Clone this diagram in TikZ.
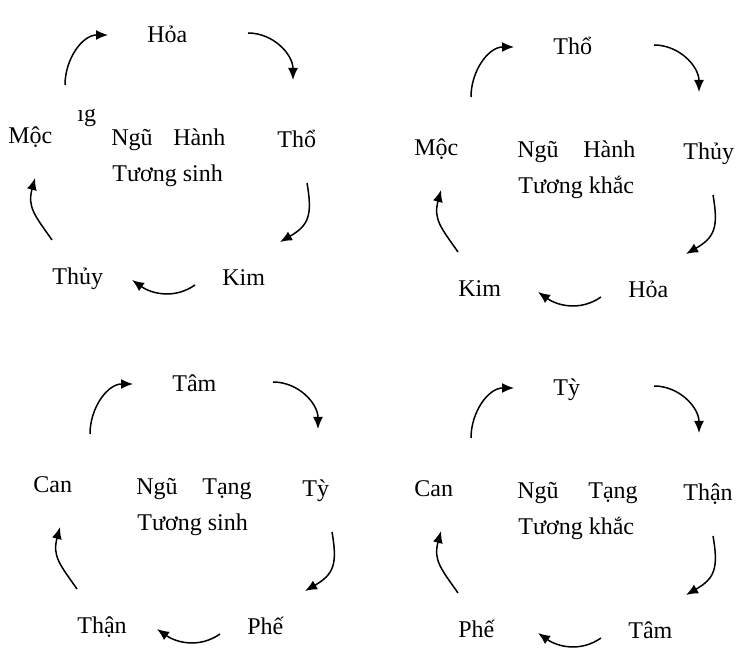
\documentclass[tikz,border=0pt]{standalone}
\usepackage{fontspec}
\setmainfont{Liberation Serif}
\usepackage{tikz}
\usetikzlibrary{arrows.meta}

\begin{document}
\begin{tikzpicture}[x=0.5pt, y=0.5pt,
        lbl/.style={anchor=base west, inner sep=0pt, font=\fontsize{12}{14}\selectfont},
        cyc/.style={-{Latex[length=6pt,width=5pt]}, line width=0.75pt}]
        \useasboundingbox (0,0) rectangle (750,-667);
        % Ngu Hanh tuong sinh
        \begin{scope}
        \node[lbl] (hoa1) at (147,-43) {Hỏa};
        \node[lbl] (tho1) at (277,-148) {Thổ};
        \node[lbl] (kim1) at (222,-286) {Kim};
        \node[lbl] (thuy1) at (52,-285) {Thủy};
        \node[lbl] (moc1) at (8,-144) {Mộc};
        \node[lbl] (frag1) at (77,-122) {ıg};
        \node[lbl] (ngu1) at (111,-146) {Ngũ};
        \node[lbl] (hanh1) at (173,-146) {Hành};
        \node[lbl] (sinh1) at (112,-182) {Tương sinh};
        \coordinate (a1) at (65,-85); \coordinate (b1) at (108,-35);
        \coordinate (a2) at (248,-33); \coordinate (b2) at (293,-80);
        \coordinate (a3) at (307,-183); \coordinate (b3) at (280,-242);
        \coordinate (a4) at (195,-285); \coordinate (b4) at (132,-280);
        \coordinate (a5) at (52,-240); \coordinate (b5) at (35,-178);
        \draw[cyc] (a1) to[out=90, in=180] (b1);
        \draw[cyc] (a2) to[out=0, in=90] (b2);
        \draw[cyc] (a3) to[out=-80, in=30, looseness=1.3] (b3);
        \draw[cyc] (a4) to[out=215, in=-35] (b4);
        \draw[cyc] (a5) to[out=125, in=-105, looseness=1.2] (b5);
        \end{scope}
        % Ngu Hanh tuong khac
        \begin{scope}[shift={(406,-12)}]
        \node[lbl] (tho2) at (147,-43) {Thổ};
        \node[lbl] (thuy2) at (277,-148) {Thủy};
        \node[lbl] (hoa2) at (222,-286) {Hỏa};
        \node[lbl] (kim2) at (52,-285) {Kim};
        \node[lbl] (moc2) at (8,-144) {Mộc};
        \node[lbl] (ngu2) at (111,-146) {Ngũ};
        \node[lbl] (hanh2) at (177,-146) {Hành};
        \node[lbl] (khac2) at (112,-182) {Tương khắc};
        \coordinate (c1) at (65,-85); \coordinate (d1) at (108,-35);
        \coordinate (c2) at (248,-33); \coordinate (d2) at (293,-80);
        \coordinate (c3) at (307,-183); \coordinate (d3) at (280,-242);
        \coordinate (c4) at (195,-285); \coordinate (d4) at (132,-280);
        \coordinate (c5) at (52,-240); \coordinate (d5) at (35,-178);
        \draw[cyc] (c1) to[out=90, in=180] (d1);
        \draw[cyc] (c2) to[out=0, in=90] (d2);
        \draw[cyc] (c3) to[out=-80, in=30, looseness=1.3] (d3);
        \draw[cyc] (c4) to[out=215, in=-35] (d4);
        \draw[cyc] (c5) to[out=125, in=-105, looseness=1.2] (d5);
        \end{scope}
        % Ngu Tang tuong sinh
        \begin{scope}[shift={(25,-349)}]
        \node[lbl] (tam3) at (147,-43) {Tâm};
        \node[lbl] (ty3) at (277,-148) {Tỳ};
        \node[lbl] (phe3) at (222,-286) {Phế};
        \node[lbl] (than3) at (52,-285) {Thận};
        \node[lbl] (can3) at (8,-144) {Can};
        \node[lbl] (ngu3) at (111,-146) {Ngũ};
        \node[lbl] (tang3) at (177,-146) {Tạng};
        \node[lbl] (sinh3) at (112,-182) {Tương sinh};
        \coordinate (e1) at (65,-85); \coordinate (f1) at (108,-35);
        \coordinate (e2) at (248,-33); \coordinate (f2) at (293,-80);
        \coordinate (e3) at (307,-183); \coordinate (f3) at (280,-242);
        \coordinate (e4) at (195,-285); \coordinate (f4) at (132,-280);
        \coordinate (e5) at (52,-240); \coordinate (f5) at (35,-178);
        \draw[cyc] (e1) to[out=90, in=180] (f1);
        \draw[cyc] (e2) to[out=0, in=90] (f2);
        \draw[cyc] (e3) to[out=-80, in=30, looseness=1.3] (f3);
        \draw[cyc] (e4) to[out=215, in=-35] (f4);
        \draw[cyc] (e5) to[out=125, in=-105, looseness=1.2] (f5);
        \end{scope}
        % Ngu Tang tuong khac
        \begin{scope}[shift={(406,-353)}]
        \node[lbl] (ty4) at (147,-43) {Tỳ};
        \node[lbl] (than4) at (277,-148) {Thận};
        \node[lbl] (tam4) at (222,-286) {Tâm};
        \node[lbl] (phe4) at (52,-285) {Phế};
        \node[lbl] (can4) at (8,-144) {Can};
        \node[lbl] (ngu4) at (111,-146) {Ngũ};
        \node[lbl] (tang4) at (182,-146) {Tạng};
        \node[lbl] (khac4) at (112,-182) {Tương khắc};
        \coordinate (g1) at (65,-85); \coordinate (h1) at (108,-35);
        \coordinate (g2) at (248,-33); \coordinate (h2) at (293,-80);
        \coordinate (g3) at (307,-183); \coordinate (h3) at (280,-242);
        \coordinate (g4) at (195,-285); \coordinate (h4) at (132,-280);
        \coordinate (g5) at (52,-240); \coordinate (h5) at (35,-178);
        \draw[cyc] (g1) to[out=90, in=180] (h1);
        \draw[cyc] (g2) to[out=0, in=90] (h2);
        \draw[cyc] (g3) to[out=-80, in=30, looseness=1.3] (h3);
        \draw[cyc] (g4) to[out=215, in=-35] (h4);
        \draw[cyc] (g5) to[out=125, in=-105, looseness=1.2] (h5);
        \end{scope}
\end{tikzpicture}
\end{document}
